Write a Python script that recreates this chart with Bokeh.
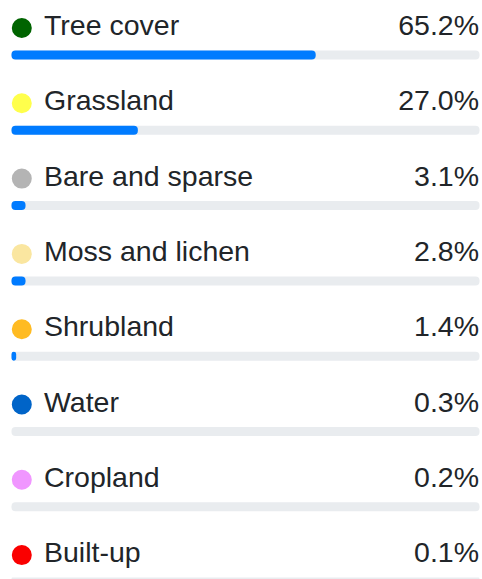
from bokeh.plotting import figure
from bokeh.models import Range1d, ColumnDataSource
from bokeh.core.properties import value
from bokeh.embed import file_html
from bokeh.resources import INLINE

# ---- data ----
categories = ["Tree cover", "Grassland", "Bare and sparse", "Moss and lichen",
              "Shrubland", "Water", "Cropland", "Built-up"]
shares = [65.2, 27.0, 3.1, 2.8, 1.4, 0.3, 0.2, 0.1]
dot_colors = ["#006400", "#ffff4c", "#b4b4b4", "#fae6a0",
              "#ffbb22", "#0064c8", "#f096ff", "#fa0000"]

# ---- layout constants (pixels) ----
W, H = 482, 579
ROW = 75.3            # row pitch in px
BAR_H = 9             # bar thickness in px
TRACK_L, TRACK_R = 11, 479   # page x of 0% and 100%
FIRST_BAR_C = 54.5    # page y of first bar centre
TEXT_UP = 30.0        # px from bar centre to text anchor
DOT_UP = 27.0         # px from bar centre to dot centre

px_per_unit = (TRACK_R - TRACK_L) / 100.0
x0 = -TRACK_L / px_per_unit
x1 = x0 + W / px_per_unit
y_top = (0 - FIRST_BAR_C) / ROW
y_bot = (H - FIRST_BAR_C) / ROW

def xdata(page_x):
    return (page_x - TRACK_L) / px_per_unit

rows = list(range(len(categories)))
src = ColumnDataSource(dict(
    row=rows,
    cat=categories,
    share=shares,
    bar=[round(v) for v in shares],   # progress bars use whole percents
    label=[f"{v:.1f}%" for v in shares],
    color=dot_colors,
    text_y=[r - TEXT_UP / ROW for r in rows],
    dot_y=[r - DOT_UP / ROW for r in rows],
))

p = figure(width=W, height=H, output_backend="svg", toolbar_location=None,
           x_range=Range1d(x0, x1), y_range=Range1d(y_bot, y_top),
           x_axis_type=None, y_axis_type=None, min_border=0,
           outline_line_color=None, background_fill_color="white",
           border_fill_color="white")
p.xgrid.visible = False
p.ygrid.visible = False

bh = BAR_H / ROW
p.hbar(y="row", left=0, right=100, height=bh, source=src,
       fill_color="#e9ecef", line_color=None, border_radius=4)
p.hbar(y="row", left=0, right="bar", height=bh, source=src,
       fill_color="#007bff", line_color=None, border_radius=4)

p.scatter(x=xdata(21.3), y="dot_y", size=20, source=src,
          fill_color="color", line_color=None)

p.text(x=xdata(43.5), y="text_y", text="cat", source=src,
       text_font=value("Liberation Sans"), text_font_size="28.5px",
       text_color="#212529", text_baseline="alphabetic", text_align="left")
p.text(x=xdata(478.5), y="text_y", text="label", source=src,
       text_font=value("Liberation Sans"), text_font_size="28.5px",
       text_color="#212529", text_baseline="alphabetic", text_align="right")

open("out.html", "w").write(file_html(p, INLINE))
